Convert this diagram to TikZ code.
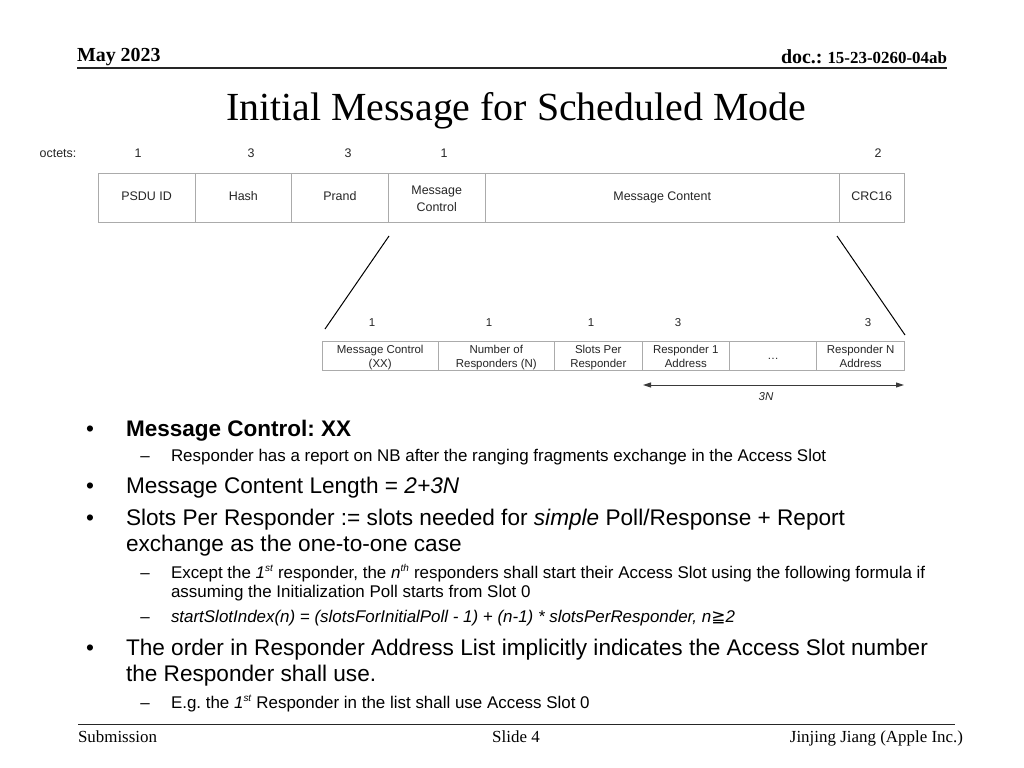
\documentclass[tikz,border=0pt]{standalone}
\usepackage{fontspec}
\setmainfont{Liberation Serif}
\setsansfont{Liberation Sans}
\newfontfamily\dejavu{DejaVu Sans}
\usetikzlibrary{arrows.meta}
\frenchspacing
\newcommand\fsz[2]{\fontsize{#1}{#2}\selectfont}
\newcommand\lowtxt[1]{\raisebox{-2bp}[\height][\depth]{\begin{tabular}{@{}c@{}}#1\end{tabular}}}
\definecolor{cellgray}{HTML}{ABABAB}
\definecolor{celltext}{HTML}{262626}
\definecolor{arrowgray}{HTML}{3A3A3A}
\begin{document}
\frenchspacing
\begin{tikzpicture}[x=1bp,y=-1bp,
  topcell/.style={draw=cellgray, line width=1bp, inner sep=0pt, outer sep=0pt,
    text=celltext, align=center, font=\sffamily\fsz{12.5}{15.5}, minimum height=48.7bp},
  lowcell/.style={draw=cellgray, line width=1bp, inner sep=0pt, outer sep=0pt,
    text=celltext, align=center, font=\sffamily\fsz{11.5}{14}, minimum height=28.6bp},
  toplab/.style={anchor=base, inner sep=0pt, text=celltext, font=\sffamily\fsz{12.5}{15}},
  lowlab/.style={anchor=base, inner sep=0pt, text=celltext, font=\sffamily\fsz{11.5}{14}},
  txt/.style={anchor=base west, inner sep=0pt, outer sep=0pt},
  mainfont/.style={font=\sffamily\fsz{22.7}{26}},
  subfont/.style={font=\sffamily\fsz{17}{20}},
  bul/.style={anchor=base, inner sep=0pt, font=\sffamily\fsz{22.7}{26}},
  dashmark/.style={anchor=base, inner sep=0pt, font=\sffamily\fsz{17}{20}},
  hdr/.style={inner sep=0pt, outer sep=0pt, font=\rmfamily\bfseries\fsz{20}{24}},
  ftr/.style={anchor=base, inner sep=0pt, outer sep=0pt, font=\rmfamily\fsz{17}{20}},
  zoomline/.style={draw=black, line width=1bp}
]
\fill[white] (0,0) rectangle (1024,768);
\useasboundingbox (0,0) rectangle (1024,768);

% header
\node[hdr, anchor=base west] (date) at (77,61.5) {May 2023};
\node[hdr, anchor=base east] (doc) at (947,64) {doc.: {\fsz{17}{20}15-23-0260-04ab}};
\coordinate (hl) at (77,68);
\coordinate (hr) at (947,68);
\draw[line width=2bp, black!85] (hl) -- (hr);

% title
\node[anchor=base, inner sep=0pt, font=\rmfamily\fsz{40}{44}] (title) at (516,120) {Initial Message for Scheduled Mode};

% top octets
\node[toplab] (oct) at (58,157.5) {octets:};
\node[toplab] (o1) at (138,157.5) {1};
\node[toplab] (o2) at (251,157.5) {3};
\node[toplab] (o3) at (348,157.5) {3};
\node[toplab] (o4) at (444,157.5) {1};
\node[toplab] (o5) at (878,157.5) {2};

% top table
\node[topcell, minimum width=97bp] (psdu) at (146.6,197.7) {\strut PSDU ID};
\node[topcell, minimum width=96.5bp] (hash) at (243.3,197.7) {\strut Hash};
\node[topcell, minimum width=96.8bp] (prand) at (339.9,197.7) {\strut Prand};
\node[topcell, minimum width=96.7bp] (mctl) at (436.7,197.7) {\raisebox{-2bp}[\height][\depth]{\begin{tabular}{@{}c@{}}Message\\[1.2bp]Control\end{tabular}}};
\node[topcell, minimum width=354.3bp] (mcont) at (662.2,197.7) {\strut Message Content};
\node[topcell, minimum width=64.7bp] (crc) at (871.7,197.7) {\strut CRC16};

% zoom lines
\coordinate (z1a) at (389,236);
\coordinate (z1b) at (325,329);
\coordinate (z2a) at (837,236);
\coordinate (z2b) at (905,335);
\draw[zoomline] (z1a) -- (z1b);
\draw[zoomline] (z2a) -- (z2b);

% lower octets
\node[lowlab] (p1) at (372,326) {1};
\node[lowlab] (p2) at (489,326) {1};
\node[lowlab] (p3) at (591,326) {1};
\node[lowlab] (p4) at (678,326) {3};
\node[lowlab] (p5) at (868,326) {3};

% lower table
\node[lowcell, minimum width=116.3bp] (lmc) at (380.2,356) {\lowtxt{Message Control\\(XX)}};
\node[lowcell, minimum width=116bp] (lnr) at (496.3,356) {\lowtxt{Number of\\Responders (N)}};
\node[lowcell, minimum width=88bp] (lsp) at (598.3,356) {\lowtxt{Slots Per\\Responder}};
\node[lowcell, minimum width=87bp] (lr1) at (685.8,356) {\lowtxt{Responder 1\\Address}};
\node[lowcell, minimum width=87.4bp] (ldots) at (773,356) {\raisebox{-1bp}[\height][\depth]{\strut\dots}};
\node[lowcell, minimum width=88bp] (lrn) at (860.7,356) {\lowtxt{Responder N\\Address}};

% 3N arrow
\coordinate (a1) at (643,385);
\coordinate (a2) at (904,385);
\draw[arrowgray, line width=1bp, {Triangle[length=8bp,width=5bp]}-{Triangle[length=8bp,width=5bp]}] (a1) -- (a2);
\node[lowlab, font=\sffamily\itshape\fsz{11.5}{14}] (n3) at (766,400) {3N};

% bullets
\node[bul] (k1) at (90,436) {•};
\node[txt, font=\sffamily\bfseries\fsz{22.6}{26}] (t1) at (126,436) {Message Control: XX};
\node[dashmark] (d1) at (145,461) {–};
\node[txt, subfont] (t2) at (171,461) {Responder has a report on NB after the ranging fragments exchange in the Access Slot};
\node[bul] (k2) at (90,493) {•};
\node[txt, mainfont] (t3) at (126,493) {Message Content Length = {\itshape 2+3N}};
\node[bul] (k3) at (90,525) {•};
\node[txt, mainfont] (t4) at (126,525) {Slots Per Responder := slots needed for {\itshape simple} Poll/Response + Report};
\node[txt, mainfont] (t5) at (126,551.5) {exchange as the one-to-one case};
\node[dashmark] (d2) at (145,578) {–};
\node[txt, subfont] (t6) at (171,578) {Except the {\itshape 1\textsuperscript{\fsz{10}{12}st}} responder, the {\itshape n\textsuperscript{\fsz{10}{12}th}} responders shall start their Access Slot using the following formula if};
\node[txt, subfont] (t7) at (171,597) {assuming the Initialization Poll starts from Slot 0};
\node[dashmark] (d3) at (145,622.5) {–};
\node[txt, subfont] (t8) at (171,622.5) {\itshape startSlotIndex(n) = (slotsForInitialPoll - 1) + (n-1) * slotsPerResponder, n{\dejavu ≧}2};
\node[bul] (k4) at (90,655) {•};
\node[txt, mainfont] (t9) at (126,655) {The order in Responder Address List implicitly indicates the Access Slot number};
\node[txt, mainfont] (t10) at (126,681.5) {the Responder shall use.};
\node[dashmark] (d4) at (145,708) {–};
\node[txt, subfont] (t11) at (171,708) {E.g. the {\itshape 1\textsuperscript{\fsz{10}{12}st}} Responder in the list shall use Access Slot 0};

% footer
\coordinate (fl) at (78,724.5);
\coordinate (fr) at (955,724.5);
\draw[line width=1.5bp, black!85] (fl) -- (fr);
\node[ftr, anchor=base west] (sub) at (78,742) {Submission};
\node[ftr] (slide) at (516,742) {Slide 4};
\node[ftr, anchor=base east] (auth) at (963,742) {Jinjing Jiang (Apple Inc.)};
\end{tikzpicture}
\end{document}
